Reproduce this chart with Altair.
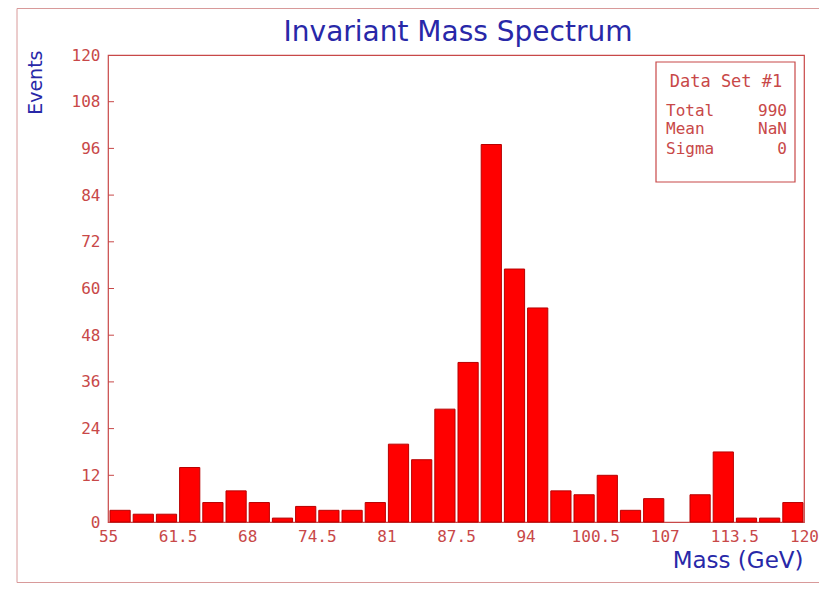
import altair as alt
import pandas as pd

# ---- data ----
x_min, x_max, n_bins = 55.0, 120.0, 30
counts = [3, 2, 2, 14, 5, 8, 5, 1, 4, 3,
          3, 5, 20, 16, 29, 41, 97, 65, 55, 8,
          7, 12, 3, 6, 0, 7, 18, 1, 1, 5]
x_ticks = [55, 61.5, 68, 74.5, 81, 87.5, 94, 100.5, 107, 113.5, 120]
y_ticks = [0, 12, 24, 36, 48, 60, 72, 84, 96, 108, 120]
title_text = "Invariant Mass Spectrum"
x_title = "Mass (GeV)"
y_title = "Events"
stat_header = "Data Set #1"
stat_names = ["Total", "Mean", "Sigma"]
stat_values = ["990", "NaN", "0"]

step = (x_max - x_min) / n_bins
df = pd.DataFrame({
    "lo": [x_min + i * step for i in range(n_bins)],
    "hi": [x_min + (i + 1) * step for i in range(n_bins)],
    "count": counts,
})
df = df[df["count"] > 0]

W, H = 696, 467
RED_AX = "#c84848"
BLUE = "#2828a8"
FONT = "DejaVu Sans"
MONO = "DejaVu Sans Mono"

xscale = alt.Scale(domain=[x_min, x_max], nice=False, zero=False)
yscale = alt.Scale(domain=[0, 120], nice=False)

bars = alt.Chart(df).mark_bar(
    color="#ff0000", stroke="#b80000", strokeWidth=1, binSpacing=3
).encode(
    x=alt.X("lo:Q", bin="binned", scale=xscale,
            axis=alt.Axis(values=x_ticks, labelExpr="toString(datum.value)",
                          title=x_title,
                          titleAnchor="end", titleAlign="right",
                          titleX=W - 1, titleY=45, titleBaseline="alphabetic",
                          titleColor=BLUE, titleFont=FONT, titleFontSize=23,
                          titleFontWeight="normal",
                          labelColor=RED_AX, labelFont=MONO, labelFontSize=16,
                          labelPadding=6, tickSize=0, domain=False, grid=False,
                          labelFlush=False, labelOverlap=False)),
    x2="hi:Q",
    y=alt.Y("count:Q", scale=yscale,
            axis=alt.Axis(values=y_ticks, title=y_title,
                          titleAngle=-90, titleAlign="right", titleBaseline="middle",
                          titleX=-73, titleY=-5,
                          titleColor=BLUE, titleFont=FONT, titleFontSize=19,
                          titleFontWeight="normal",
                          labelColor=RED_AX, labelFont=MONO, labelFontSize=16,
                          labelPadding=8, tickSize=0, domain=False, grid=False,
                          labelOverlap=False)),
)

ticks_df = pd.DataFrame({"v": y_ticks[1:-1]})
yticks = alt.Chart(ticks_df).mark_rule(color=RED_AX, strokeWidth=1).encode(
    y=alt.Y("v:Q", scale=yscale), x=alt.value(0), x2=alt.value(6)
)

one = pd.DataFrame({"a": [0]})
outer = alt.Chart(one).mark_rect(fill=None, stroke="#d89a9a", strokeWidth=1).encode(
    x=alt.value(-91), x2=alt.value(730), y=alt.value(-46.5), y2=alt.value(527.5)
)
box = alt.Chart(one).mark_rect(fill=None, stroke=RED_AX, strokeWidth=1.2).encode(
    x=alt.value(548), x2=alt.value(687), y=alt.value(7), y2=alt.value(127)
)
title = alt.Chart(one).mark_text(text=title_text, align="center", baseline="alphabetic",
                                 font=FONT, fontSize=28, color=BLUE).encode(
    x=alt.value(350), y=alt.value(-14)
)

layers = [outer, bars, yticks, box, title]
layers.append(alt.Chart(one).mark_text(text=stat_header, align="center", baseline="middle",
                                       font=MONO, fontSize=17, color=RED_AX)
              .encode(x=alt.value(618), y=alt.value(27)))
row_y = [56, 74, 94]
for name, val, yy in zip(stat_names, stat_values, row_y):
    layers.append(alt.Chart(one).mark_text(text=name, align="left", baseline="middle",
                                           font=MONO, fontSize=16, color=RED_AX)
                  .encode(x=alt.value(558), y=alt.value(yy)))
    layers.append(alt.Chart(one).mark_text(text=val, align="right", baseline="middle",
                                           font=MONO, fontSize=16, color=RED_AX)
                  .encode(x=alt.value(679), y=alt.value(yy)))

chart = alt.layer(*layers).properties(
    width=W, height=H,
    autosize=alt.AutoSizeParams(type="none"),
    padding={"left": 100, "top": 47, "right": 15, "bottom": 61},
    background="white",
).configure_view(stroke=RED_AX, strokeWidth=1.2)

chart.save("out.html", embed_options={"renderer": "svg", "actions": False})
